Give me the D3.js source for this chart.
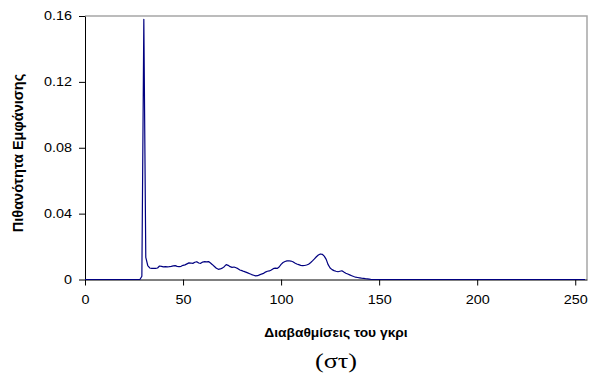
<!DOCTYPE html>
<html>
<head>
<meta charset="utf-8">
<script src="https://cdn.jsdelivr.net/npm/d3@7"></script>
<style>
  body { margin: 0; background: #fff; }
  text { font-family: "Liberation Sans", Arial, sans-serif; }
</style>
</head>
<body>
<div id="chart"></div>
<script>
// grey level histogram (normalised)
var greyLevels = [0, 28, 29, 30, 31, 32, 33, 34, 35, 36, 37, 38, 39, 40, 41, 42, 43, 44, 45, 46, 47, 48, 49,
  50, 51, 52, 53, 54, 55, 56, 57, 58, 59, 60, 61, 62, 63, 64, 65, 66, 67, 68, 69, 70, 71, 72, 73, 74, 75,
  76, 77, 78, 79, 80, 81, 82, 83, 84, 85, 86, 87, 88, 89, 90, 91, 92, 93, 94, 95, 96, 97, 98, 99, 100,
  101, 102, 103, 104, 105, 106, 107, 108, 109, 110, 111, 112, 113, 114, 115, 116, 117, 118, 119, 120,
  121, 122, 123, 124, 125, 126, 127, 128, 129, 130, 131, 132, 133, 134, 135, 136, 137, 138, 139, 140,
  141, 142, 143, 144, 145, 146, 255];
var probability = [0, 0, 0.002, 0.158, 0.0135, 0.0085, 0.007, 0.0068, 0.0068, 0.0068, 0.0070, 0.0082, 0.0080,
  0.0077, 0.0078, 0.0077, 0.0078, 0.0080, 0.0083, 0.0084, 0.0080, 0.0078, 0.0080, 0.0086, 0.0089, 0.0095,
  0.0101, 0.0100, 0.0098, 0.0105, 0.0108, 0.0100, 0.0098, 0.0106, 0.0108, 0.0107, 0.0109, 0.0100, 0.0090,
  0.0079, 0.0068, 0.0062, 0.0064, 0.0069, 0.0078, 0.0090, 0.0086, 0.0078, 0.0074, 0.0076, 0.0071, 0.0066,
  0.0058, 0.0054, 0.0049, 0.0045, 0.0040, 0.0035, 0.0030, 0.0026, 0.0022, 0.0023, 0.0028, 0.0033, 0.0037,
  0.0045, 0.0050, 0.0052, 0.0058, 0.0066, 0.0069, 0.0067, 0.0076, 0.0092, 0.0103, 0.0109, 0.0113, 0.0114,
  0.0112, 0.0108, 0.0100, 0.0094, 0.0090, 0.0086, 0.0084, 0.0085, 0.0088, 0.0093, 0.0102, 0.0113, 0.0125,
  0.0138, 0.0149, 0.0155, 0.0153, 0.0142, 0.0122, 0.0090, 0.0070, 0.0060, 0.0054, 0.0050, 0.0047, 0.0050,
  0.0053, 0.0045, 0.0038, 0.0033, 0.0028, 0.0023, 0.0018, 0.0014, 0.0012, 0.0010, 0.0008, 0.0007, 0.0005,
  0.0004, 0.0002, 0, 0];

var xTicks = [0, 50, 100, 150, 200, 250];
var yTicks = [0, 0.04, 0.08, 0.12, 0.16];
var xTitle = "Διαβαθμίσεις του γκρι";
var yTitle = "Πιθανότητα Εμφάνισης";
var caption = "(στ)";

var width = 595, height = 381;
var margin = {top: 16, right: 8, bottom: 101.5, left: 85};
var stretch = 1.2; // text in the scan is a bit wider than it is tall

var svg = d3.select("#chart").append("svg")
  .attr("width", width)
  .attr("height", height);

var x = d3.scaleLinear()
  .domain([0, 256])
  .range([margin.left, width - margin.right]);
var y = d3.scaleLinear()
  .domain([0, 0.16])
  .range([height - margin.bottom, margin.top]);

// plot area border (top / right)
svg.append("path")
  .attr("d", "M" + x(0) + "," + y(0.16) + "H" + x(256) + "V" + y(0))
  .attr("fill", "none")
  .attr("stroke", "#a6a6a6")
  .attr("stroke-width", 1.5);

var xAxis = svg.append("g")
  .attr("transform", "translate(0," + y(0) + ")")
  .call(d3.axisBottom(x).tickValues(xTicks).tickSize(6).tickPadding(10).tickSizeOuter(0));
var yAxis = svg.append("g")
  .attr("transform", "translate(" + x(0) + ",0)")
  .call(d3.axisLeft(y).tickValues(yTicks).tickSize(6).tickPadding(13).tickSizeOuter(0)
    .tickFormat(function(d) { return d === 0 ? "0" : d3.format(".2f")(d); }));

[xAxis, yAxis].forEach(function(g) {
  g.select(".domain").attr("stroke", "#000");
  g.selectAll(".tick line").attr("stroke", "#000");
  g.selectAll(".tick text")
    .attr("fill", "#000")
    .style("font-size", "12px")
    .style("font-family", "Liberation Sans, Arial, sans-serif");
});
xAxis.selectAll(".tick text")
  .attr("transform", "scale(" + stretch + ",1)");
yAxis.selectAll(".tick text")
  .attr("x", 0)
  .attr("transform", "translate(-13,0) scale(" + stretch + ",1)");

var line = d3.line()
  .x(function(d, i) { return x(greyLevels[i]); })
  .y(function(d) { return y(d); });

svg.append("path")
  .datum(probability)
  .attr("d", line)
  .attr("fill", "none")
  .attr("stroke", "#000080")
  .attr("stroke-width", 1.2)
  .attr("stroke-linejoin", "round");

var midX = (x(0) + x(256)) / 2;

svg.append("text")
  .attr("transform", "translate(" + midX + ",337) scale(1.15,1)")
  .attr("text-anchor", "middle")
  .style("font-size", "12px")
  .style("font-weight", "bold")
  .text(xTitle);

svg.append("text")
  .attr("transform", "translate(23,153) rotate(-90)")
  .attr("text-anchor", "middle")
  .style("font-size", "14.5px")
  .style("font-weight", "bold")
  .text(yTitle);

svg.append("text")
  .attr("transform", "translate(" + midX + ",368) scale(1.25,1)")
  .attr("text-anchor", "middle")
  .style("font-family", "Liberation Serif, Times New Roman, serif")
  .style("font-size", "21px")
  .text(caption);
</script>
</body>
</html>
